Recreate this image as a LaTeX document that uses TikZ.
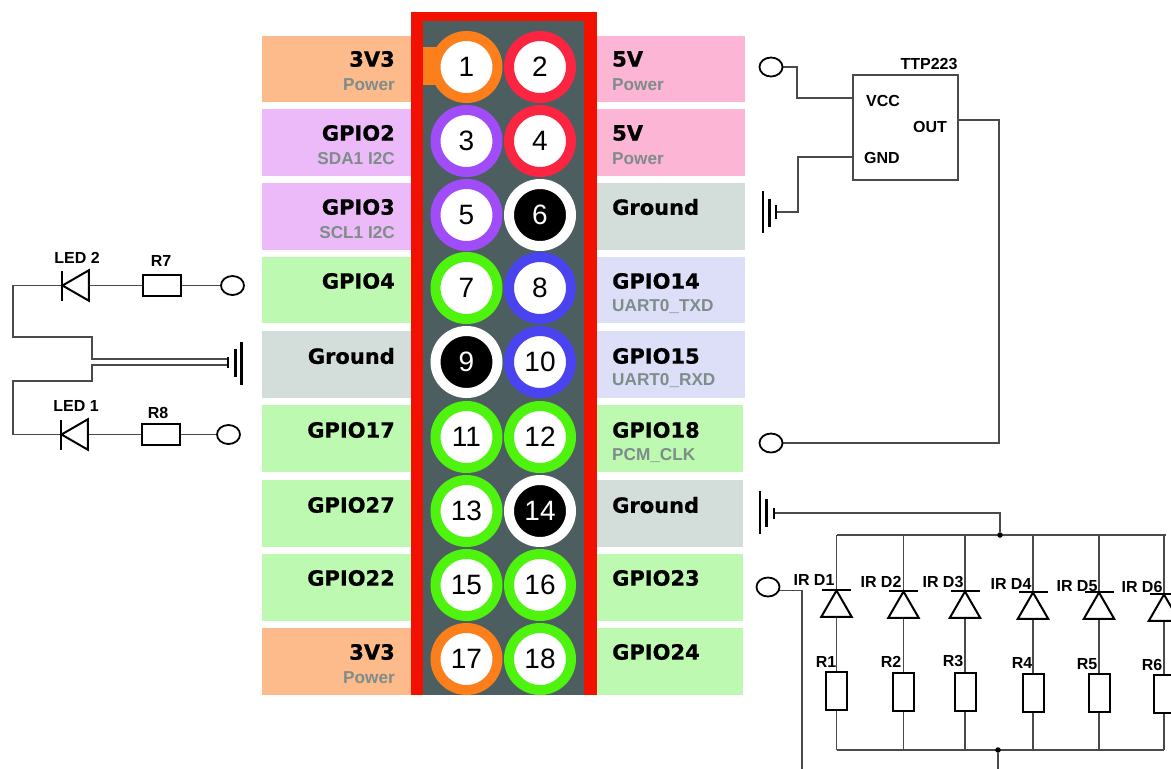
\documentclass[tikz,border=0pt]{standalone}
\usepackage{fontspec}
\setmainfont{Liberation Sans}
\newfontfamily\pinfont{DejaVu Sans}[BoldFont={DejaVu Sans Bold},BoldFeatures={FakeBold=0.8}]
\usetikzlibrary{shapes.geometric}
\pgfdeclarelayer{bg}
\pgfsetlayers{bg,main}
\definecolor{stripOrange}{HTML}{FDBB8C}
\definecolor{stripPurple}{HTML}{ECBAF8}
\definecolor{stripGreen}{HTML}{BDF9B0}
\definecolor{stripGround}{HTML}{D3DEDB}
\definecolor{stripPink}{HTML}{FDB5D5}
\definecolor{stripBlue}{HTML}{DDDFF8}
\definecolor{ringOrange}{HTML}{FD7F1C}
\definecolor{ringRed}{HTML}{FB2441}
\definecolor{ringPurple}{HTML}{A04CF8}
\definecolor{ringGreen}{HTML}{4FF40E}
\definecolor{ringBlue}{HTML}{4A44F0}
\definecolor{headerRed}{HTML}{F21000}
\definecolor{headerGrey}{HTML}{4D5E60}
\definecolor{subGrey}{HTML}{7E8C8A}
\definecolor{wireGrey}{HTML}{4A4A4A}
\tikzset{
        strip/.style={rectangle, inner sep=0pt, outer sep=0pt, minimum width=149pt, minimum height=66.5pt},
        pinname/.style={font=\pinfont\bfseries\fontsize{21}{21}\selectfont, inner sep=0pt, text=black},
        pinsub/.style={font=\bfseries\fontsize{17.2}{17.2}\selectfont, inner sep=0pt, text=subGrey, yshift=-0.7pt},
        pin/.style={circle, line width=10pt, fill=white, draw=#1, inner sep=0pt, minimum size=62pt,
                font=\fontsize{28}{28}\selectfont},
        gndpin/.style={circle, line width=10pt, fill=black, draw=white, text=white, inner sep=0pt, minimum size=62pt,
                font=\fontsize{28}{28}\selectfont},
        wire/.style={draw=wireGrey, line width=1.2pt},
        part/.style={font=\bfseries\fontsize{16}{16}\selectfont, inner sep=0pt, text=black, yshift=-0.7pt},
        resistorh/.style={rectangle, draw=black, line width=2pt, fill=white, inner sep=0pt, minimum width=38pt, minimum height=21pt},
        resistorv/.style={rectangle, draw=black, line width=2pt, fill=white, inner sep=0pt, minimum width=21pt, minimum height=38pt},
        terminal/.style={ellipse, draw=black, line width=1.8pt, fill=white, inner sep=0pt, minimum width=23pt, minimum height=19pt},
        irdiode/.style={regular polygon, regular polygon sides=3, draw=black, line width=2pt, inner sep=0pt, outer sep=0pt, minimum size=35pt},
        leddiode/.style={irdiode, shape border rotate=90},
        dbarh/.style={rectangle, fill=black, inner sep=0pt, outer sep=0pt, minimum width=29pt, minimum height=2pt},
        dbarv/.style={rectangle, fill=black, inner sep=0pt, outer sep=0pt, minimum width=2.2pt, minimum height=30pt},
        gndbar/.style={rectangle, fill=black, inner sep=0pt, outer sep=0pt, minimum width=2.8pt, minimum height=#1},
        junction/.style={circle, fill=black, inner sep=0pt, minimum size=5.5pt},
}

\begin{document}
\begin{tikzpicture}[x=1pt, y=-1pt]
        \useasboundingbox (0,0) rectangle (1171,769);
        \node (s1) [strip, fill=stripOrange] at (336.5,69) {};
        \node (s3) [strip, fill=stripPurple] at (336.5,142.5) {};
        \node (s5) [strip, fill=stripPurple] at (336.5,216.5) {};
        \node (s7) [strip, fill=stripGreen] at (336.5,290) {};
        \node (s9) [strip, fill=stripGround] at (336.5,364.5) {};
        \node (s11) [strip, fill=stripGreen] at (336.5,438.5) {};
        \node (s13) [strip, fill=stripGreen] at (336.5,513.5) {};
        \node (s15) [strip, fill=stripGreen] at (336.5,587.5) {};
        \node (s17) [strip, fill=stripOrange] at (336.5,661.5) {};
        \node (s2) [strip, fill=stripPink] at (670.5,69) {};
        \node (s4) [strip, fill=stripPink] at (670.5,142.5) {};
        \node (s6) [strip, fill=stripGround] at (670.5,216.5) {};
        \node (s8) [strip, fill=stripBlue] at (670.5,290) {};
        \node (s10) [strip, fill=stripBlue] at (670.5,364.5) {};
        \node (s12) [strip, fill=stripGreen, minimum width=147pt] at (669.5,438.5) {};
        \node (s14) [strip, fill=stripGround, minimum width=147pt] at (669.5,513.5) {};
        \node (s16) [strip, fill=stripGreen, minimum width=147pt] at (669.5,587.5) {};
        \node (s18) [strip, fill=stripGreen, minimum width=147pt] at (669.5,661.5) {};
        \node (frame) [rectangle, fill=headerRed, inner sep=0pt, minimum width=186pt, minimum height=683pt] at (503.5,353.5) {};
        \node (header) [rectangle, fill=headerGrey, inner sep=0pt, minimum width=161pt, minimum height=674pt] at (503.5,358) {};
        \node (tab) [rectangle, fill=ringOrange, inner sep=0pt, minimum width=24pt, minimum height=38pt] at (435,66) {};
        \node (p1) [pin=ringOrange] at (466.5,67) {1};
        \node (p2) [pin=ringRed] at (540,67) {2};
        \node (p3) [pin=ringPurple] at (466.5,141) {3};
        \node (p4) [pin=ringRed] at (540,141) {4};
        \node (p5) [pin=ringPurple] at (466.5,215) {5};
        \node (p6) [gndpin] at (540,215) {6};
        \node (p7) [pin=ringGreen] at (466.5,288) {7};
        \node (p8) [pin=ringBlue] at (540,288) {8};
        \node (p9) [gndpin] at (466.5,362) {9};
        \node (p10) [pin=ringBlue] at (540,362) {10};
        \node (p11) [pin=ringGreen] at (466.5,437) {11};
        \node (p12) [pin=ringGreen] at (540,437) {12};
        \node (p13) [pin=ringGreen] at (466.5,511) {13};
        \node (p14) [gndpin] at (540,511) {14};
        \node (p15) [pin=ringGreen] at (466.5,585) {15};
        \node (p16) [pin=ringGreen] at (540,585) {16};
        \node (p17) [pin=ringOrange] at (466.5,659) {17};
        \node (p18) [pin=ringGreen] at (540,659) {18};
        \node (n1) [pinname, anchor=east] at (395,59) {3V3};
        \node (u1) [pinsub, anchor=east] at (395,84) {Power};
        \node (n3) [pinname, anchor=east] at (395,133) {GPIO2};
        \node (u3) [pinsub, anchor=east] at (395,158) {SDA1 I2C};
        \node (n5) [pinname, anchor=east] at (395,207) {GPIO3};
        \node (u5) [pinsub, anchor=east] at (395,232) {SCL1 I2C};
        \node (n7) [pinname, anchor=east] at (395,281) {GPIO4};
        \node (n9) [pinname, anchor=east] at (395,356) {Ground};
        \node (n11) [pinname, anchor=east] at (395,430) {GPIO17};
        \node (n13) [pinname, anchor=east] at (395,505) {GPIO27};
        \node (n15) [pinname, anchor=east] at (395,578) {GPIO22};
        \node (n17) [pinname, anchor=east] at (395,652) {3V3};
        \node (u17) [pinsub, anchor=east] at (395,677) {Power};
        \node (n2) [pinname, anchor=west] at (612,59) {5V};
        \node (u2) [pinsub, anchor=west] at (612,84) {Power};
        \node (n4) [pinname, anchor=west] at (612,133) {5V};
        \node (u4) [pinsub, anchor=west] at (612,158) {Power};
        \node (n6) [pinname, anchor=west] at (612,207) {Ground};
        \node (n8) [pinname, anchor=west] at (612,281) {GPIO14};
        \node (u8) [pinsub, anchor=west] at (612,306) {UART0\_TXD};
        \node (n10) [pinname, anchor=west] at (612,356) {GPIO15};
        \node (u10) [pinsub, anchor=west] at (612,380) {UART0\_RXD};
        \node (n12) [pinname, anchor=west] at (612,430) {GPIO18};
        \node (u12) [pinsub, anchor=west] at (612,455) {PCM\_CLK};
        \node (n14) [pinname, anchor=west] at (612,505) {Ground};
        \node (n16) [pinname, anchor=west] at (612,578) {GPIO23};
        \node (n18) [pinname, anchor=west] at (612,652) {GPIO24};
        \node (led2) [leddiode] at (80,285.5) {};
        \node (bar2) [dbarv] at (62,285.5) {};
        \node (r7) [resistorh] at (161.5,285.5) {};
        \node (t7) [terminal] at (232.5,285.5) {};
        \node (led1) [leddiode] at (79,434.5) {};
        \node (bar1) [dbarv] at (61,434.5) {};
        \node (r8) [resistorh] at (161,434.5) {};
        \node (t8) [terminal] at (228.5,434.5) {};
        \node (g1a) [gndbar=11pt] at (228,362) {};
        \node (g1b) [gndbar=28pt] at (235.5,363) {};
        \node (g1c) [gndbar=43pt] at (241.5,363.5) {};
        \node (l2) [part] at (77,257) {LED 2};
        \node (l1) [part] at (76,405) {LED 1};
        \node (l7) [part] at (161,260) {R7};
        \node (l8) [part] at (158,412) {R8};
        \coordinate (c1) at (13,285.5);
        \coordinate (c2) at (13,337);
        \coordinate (c3) at (92,337);
        \coordinate (c4) at (92,359);
        \coordinate (c5) at (228,359);
        \coordinate (c6) at (228,365);
        \coordinate (c7) at (92,365);
        \coordinate (c8) at (92,381);
        \coordinate (c9) at (13,381);
        \coordinate (c10) at (13,434.5);
        \node (ttp) [rectangle, draw=wireGrey, line width=1.2pt, fill=white, inner sep=0pt, minimum width=105pt, minimum height=105pt] at (905.5,127.5) {};
        \node (lttp) [part] at (929,63) {TTP223};
        \node (lvcc) [part] at (883,100) {VCC};
        \node (lout) [part] at (930,126) {OUT};
        \node (lgnd) [part] at (882,157) {GND};
        \node (t1) [terminal] at (771,67) {};
        \node (t18) [terminal] at (771,443) {};
        \node (g2a) [gndbar=14pt] at (776,212) {};
        \node (g2b) [gndbar=28pt] at (769.5,213) {};
        \node (g2c) [gndbar=42pt] at (763,212) {};
        \coordinate (v1) at (797,67);
        \coordinate (v2) at (797,98);
        \coordinate (v3) at (853,98);
        \coordinate (v4) at (853,157);
        \coordinate (v5) at (798,157);
        \coordinate (v6) at (798,212);
        \coordinate (v7) at (958,120);
        \coordinate (v8) at (999,120);
        \coordinate (v9) at (999,443);
        \node (g3a) [gndbar=11pt] at (774,513) {};
        \node (g3b) [gndbar=28pt] at (766.5,513) {};
        \node (g3c) [gndbar=43pt] at (760,512.5) {};
        \node (dtop) [junction] at (1000,535) {};
        \node (dbot) [junction] at (998,750) {};
        \node (t23) [terminal] at (768,587) {};
        \coordinate (w1) at (1000,513);
        \coordinate (w2) at (837,535);
        \coordinate (w3) at (1166,535);
        \coordinate (w4) at (836.5,750);
        \coordinate (w5) at (1164,750);
        \coordinate (w6) at (998,769);
        \coordinate (w7) at (802,590.5);
        \coordinate (w8) at (802,769);
        \node (b1) [dbarh] at (836.5,590) {};
        \node (b2) [dbarh] at (903.5,591) {};
        \node (b3) [dbarh] at (965,591) {};
        \node (b4) [dbarh] at (1033,592) {};
        \node (b5) [dbarh] at (1099,592) {};
        \node (b6) [dbarh] at (1164,594) {};
        \node (d1) [irdiode] at (836.5,608) {};
        \node (d2) [irdiode] at (903.5,609) {};
        \node (d3) [irdiode] at (965,609) {};
        \node (d4) [irdiode] at (1033,610) {};
        \node (d5) [irdiode] at (1099,610) {};
        \node (d6) [irdiode] at (1164,612) {};
        \node (r1) [resistorv] at (836.5,690.5) {};
        \node (r2) [resistorv] at (903.5,691.5) {};
        \node (r3) [resistorv] at (965,691.5) {};
        \node (r4) [resistorv] at (1033,692.5) {};
        \node (r5) [resistorv] at (1099,692.5) {};
        \node (r6) [resistorv] at (1164,694) {};
        \coordinate (a1) at (836.5,535);
        \coordinate (a2) at (903.5,535);
        \coordinate (a3) at (965,535);
        \coordinate (a4) at (1033,535);
        \coordinate (a5) at (1099,535);
        \coordinate (a6) at (1164,535);
        \coordinate (e1) at (836.5,750);
        \coordinate (e2) at (903.5,750);
        \coordinate (e3) at (965,750);
        \coordinate (e4) at (1033,750);
        \coordinate (e5) at (1099,750);
        \coordinate (e6) at (1164,750);
        \node (ld1) [part] at (814,579) {IR D1};
        \node (ld2) [part] at (881,581) {IR D2};
        \node (ld3) [part] at (943,581) {IR D3};
        \node (ld4) [part] at (1011,583) {IR D4};
        \node (ld5) [part] at (1077,585) {IR D5};
        \node (ld6) [part] at (1142,586) {IR D6};
        \node (lr1) [part] at (826,661) {R1};
        \node (lr2) [part] at (891,661) {R2};
        \node (lr3) [part] at (953,660) {R3};
        \node (lr4) [part] at (1022,662) {R4};
        \node (lr5) [part] at (1087,663) {R5};
        \node (lr6) [part] at (1152,664) {R6};
        \begin{pgfonlayer}{bg}
                \draw [wire] (bar2.center) -- (c1) -- (c2) -- (c3) -- (c4) -- (c5);
                \draw [wire] (led2) -- (r7);
                \draw [wire] (r7) -- (t7);
                \draw [wire] (c6) -- (c7) -- (c8) -- (c9) -- (c10) -- (bar1.center);
                \draw [wire] (led1) -- (r8);
                \draw [wire] (r8) -- (t8);
                \draw [wire] (t1) -- (v1) -- (v2) -- (v3);
                \draw [wire] (v4) -- (v5) -- (v6) -- (g2a);
                \draw [wire] (v7) -- (v8) -- (v9) -- (t18);
                \draw [wire] (g3a) -- (w1) -- (dtop);
                \draw [wire] (w2) -- (w3);
                \draw [wire] (w4) -- (w5);
                \draw [wire] (dbot) -- (w6);
                \draw [wire] (t23) |- (w7) -- (w8);
                \draw [wire] (a1) -- (b1);
                \draw [wire] (a2) -- (b2);
                \draw [wire] (a3) -- (b3);
                \draw [wire] (a4) -- (b4);
                \draw [wire] (a5) -- (b5);
                \draw [wire] (a6) -- (b6);
                \draw [wire] (d1) -- (r1);
                \draw [wire] (d2) -- (r2);
                \draw [wire] (d3) -- (r3);
                \draw [wire] (d4) -- (r4);
                \draw [wire] (d5) -- (r5);
                \draw [wire] (d6) -- (r6);
                \draw [wire] (r1) -- (e1);
                \draw [wire] (r2) -- (e2);
                \draw [wire] (r3) -- (e3);
                \draw [wire] (r4) -- (e4);
                \draw [wire] (r5) -- (e5);
                \draw [wire] (r6) -- (e6);
        \end{pgfonlayer}
\end{tikzpicture}
\end{document}
